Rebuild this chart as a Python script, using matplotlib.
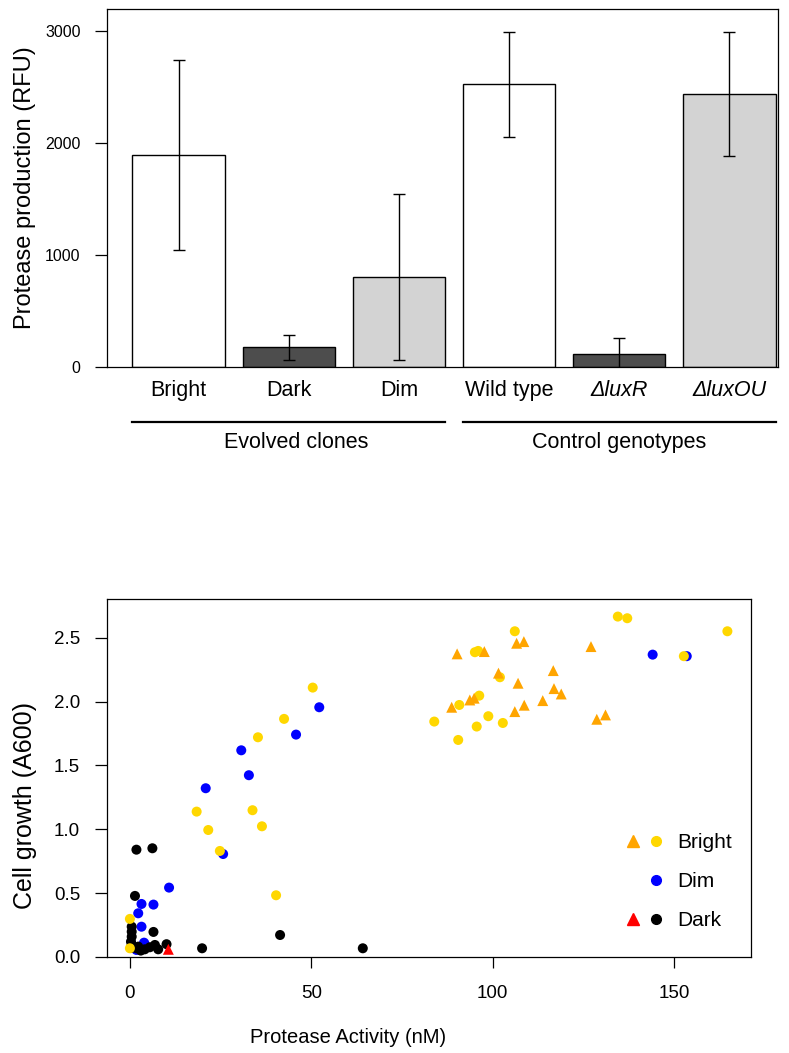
import matplotlib
matplotlib.use('Agg')
import matplotlib.pyplot as plt
from matplotlib.lines import Line2D
from matplotlib.legend_handler import HandlerTuple
import matplotlib.transforms as mtransforms
import numpy as np

plt.rcParams['font.family'] = ['Liberation Sans', 'DejaVu Sans']

# ---- top panel data: protease production (RFU)
strains = ['Bright', 'Dark', 'Dim', 'Wild type', '\u0394luxR', '\u0394luxOU']
italic_label = [False, False, False, False, True, True]
rfu_mean = [1890, 175, 805, 2520, 116, 2436]
rfu_err = [850, 110, 740, 470, 138, 552]
bar_colors = ['white', '#4d4d4d', '#d3d3d3', 'white', '#4d4d4d', '#d3d3d3']
groups = ['Evolved clones', 'Control genotypes']
group_members = [[0, 1, 2], [3, 4, 5]]
group_label_x = [1.07, 4.0]

# ---- bottom panel data: protease activity (nM) vs cell growth (A600)
bright_tri_x = [106.6, 108.6, 127.1, 90.2, 97.7, 101.6, 116.7, 107.0, 116.9,
                118.9, 93.7, 94.9, 88.7, 108.7, 113.8, 106.1, 128.7, 131.1]
bright_tri_y = [2.456, 2.469, 2.430, 2.373, 2.391, 2.222, 2.242, 2.143, 2.101,
                2.059, 2.012, 2.026, 1.955, 1.971, 2.007, 1.921, 1.861, 1.895]

bright_x = [134.5, 137.1, 164.7, 106.1, 95.1, 96.0, 152.7, 102.0, 96.3, 90.8,
            83.9, 98.8, 95.6, 102.8, 90.5, 50.4, 42.5, 35.3, 18.4, 33.8,
            21.6, 36.4, 24.8, 40.3, 0.0, 0.0]
bright_y = [2.665, 2.652, 2.550, 2.550, 2.386, 2.396, 2.355, 2.190, 2.046, 1.973,
            1.843, 1.885, 1.804, 1.832, 1.699, 2.109, 1.864, 1.720, 1.138, 1.149,
            0.994, 1.023, 0.830, 0.483, 0.298, 0.068]

dim_x = [144.1, 153.5, 52.2, 45.8, 30.7, 32.8, 20.9, 25.7, 10.8, 3.2, 6.5,
         2.3, 3.2, 3.9, 1.8, 4.1]
dim_y = [2.367, 2.355, 1.955, 1.741, 1.618, 1.423, 1.321, 0.806, 0.543, 0.415,
         0.410, 0.342, 0.237, 0.112, 0.055, 0.100]

dark_x = [1.8, 6.2, 1.4, 0.5, 0.5, 0.5, 0.3, 0.5, 6.5, 2.3, 1.8, 4.1, 5.5,
          6.9, 7.8, 10.1, 41.4, 19.9, 64.2, 0.3, 3.0]
dark_y = [0.840, 0.851, 0.478, 0.237, 0.198, 0.159, 0.120, 0.094, 0.196, 0.081,
          0.068, 0.060, 0.076, 0.094, 0.060, 0.100, 0.172, 0.068, 0.068, 0.070,
          0.050]

dark_tri_x = [10.6]
dark_tri_y = [0.060]


fig = plt.figure(figsize=(7.89, 10.53), dpi=100)

# ================= top: bar chart
ax1 = fig.add_axes([0.1356, 0.6515, 0.8504, 0.340])
pos = np.arange(len(strains))
bw = 0.836
ax1.bar(pos, rfu_mean, width=bw, color=bar_colors, edgecolor='black', linewidth=1.0)
ax1.errorbar(pos, rfu_mean, yerr=rfu_err, fmt='none', ecolor='black',
             elinewidth=1.0, capsize=4.4, capthick=1.0)
ax1.set_xlim(-0.649, 5.44)
ax1.set_ylim(0, 3193)
ax1.set_yticks([0, 1000, 2000, 3000])
ax1.tick_params(axis='y', length=8.6, width=0.9, pad=10.5, labelsize=11.5)
ax1.set_xticks(pos)
ax1.set_xticklabels(strains, fontsize=15.5)
ax1.tick_params(axis='x', length=0, pad=17)
for lab, it in zip(ax1.get_xticklabels(), italic_label):
    lab.set_verticalalignment('center')
    if it:
        lab.set_fontstyle('italic')
for s in ax1.spines.values():
    s.set_linewidth(0.9)
ax1.set_ylabel('Protease production (RFU)', fontsize=17)
ax1.yaxis.set_label_coords(-0.1222, 0.5)
ax1.yaxis.label.set_verticalalignment('center')

trans = mtransforms.blended_transform_factory(ax1.transData, ax1.transAxes)
for name, members, gx in zip(groups, group_members, group_label_x):
    x0 = pos[members[0]] - bw / 2
    x1 = pos[members[-1]] + bw / 2
    ax1.plot([x0, x1], [-0.1536, -0.1536], color='black', lw=1.6,
             transform=trans, clip_on=False)
    ax1.text(gx, -0.212, name, transform=trans, ha='center', va='center', fontsize=15.5)

# ================= bottom: scatter
ax2 = fig.add_axes([0.1352, 0.0912, 0.8166, 0.340])
ax2.scatter(dim_x, dim_y, s=52, color='#0000ff', edgecolors='none', zorder=2)
ax2.scatter(dark_x, dark_y, s=52, color='black', edgecolors='none', zorder=3)
ax2.scatter(bright_x, bright_y, s=52, color='#ffd700', edgecolors='none', zorder=4)
ax2.scatter(bright_tri_x, bright_tri_y, s=62, marker='^', color='#ffa500',
            edgecolors='none', zorder=5)
ax2.scatter(dark_tri_x, dark_tri_y, s=62, marker='^', color='#ff0000',
            edgecolors='none', zorder=5)

ax2.set_xlim(-6.4, 171.2)
ax2.set_ylim(0, 2.803)
ax2.set_xticks([0, 50, 100, 150])
ax2.set_yticks([0.0, 0.5, 1.0, 1.5, 2.0, 2.5])
ax2.set_yticklabels(['{:.1f}'.format(v) for v in [0.0, 0.5, 1.0, 1.5, 2.0, 2.5]])
ax2.tick_params(axis='y', length=8.6, width=0.9, pad=10.5, labelsize=13.5)
ax2.tick_params(axis='x', length=8, width=0.9, pad=12, labelsize=13.5)
for s in ax2.spines.values():
    s.set_linewidth(0.9)
ax2.set_xlabel('Protease Activity (nM)', fontsize=14.5)
ax2.xaxis.set_label_coords(0.3745, -0.2263)
ax2.xaxis.label.set_verticalalignment('center')
ax2.set_ylabel('Cell growth (A600)', fontsize=18)
ax2.yaxis.set_label_coords(-0.1268, 0.4218)
ax2.yaxis.label.set_verticalalignment('center')

h_bright = (Line2D([], [], marker='^', ls='none', color='#ffa500', ms=8),
            Line2D([], [], marker='o', ls='none', color='#ffd700', ms=7))
h_dim = (Line2D([], [], marker='^', ls='none', color='none', ms=8),
         Line2D([], [], marker='o', ls='none', color='#0000ff', ms=7))
h_dark = (Line2D([], [], marker='^', ls='none', color='#ff0000', ms=8),
          Line2D([], [], marker='o', ls='none', color='black', ms=7))
ax2.legend([h_bright, h_dim, h_dark], ['Bright', 'Dim', 'Dark'],
           handler_map={tuple: HandlerTuple(ndivide=None, pad=0)},
           loc='center left', bbox_to_anchor=(0.7985, 0.2103), frameon=False,
           fontsize=15, handlelength=2.2, handletextpad=0.5, labelspacing=0.96,
           borderpad=0, borderaxespad=0)

plt.savefig('out.png', dpi=100)
